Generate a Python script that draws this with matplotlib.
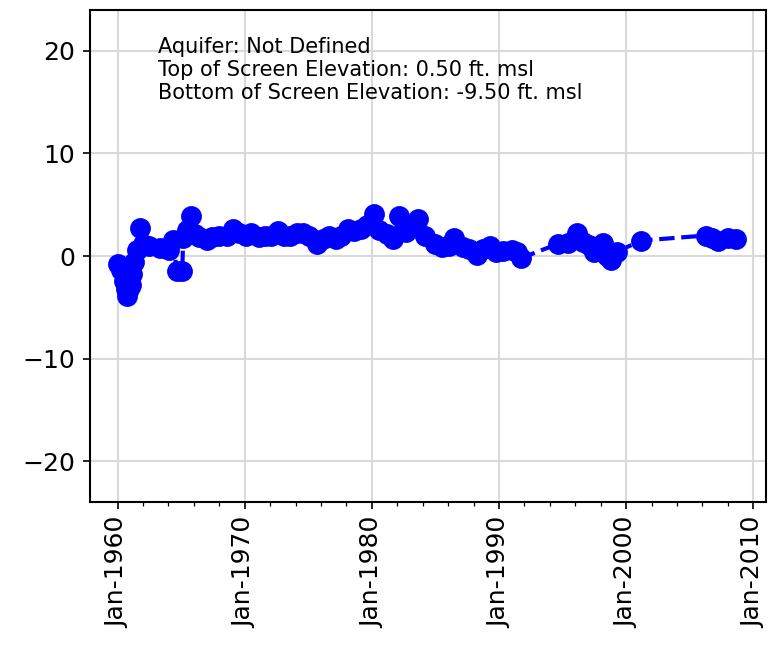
"""
Water level hydrograph for a single well (elevation in ft. msl over time).
"""

import matplotlib
matplotlib.use('Agg')
import matplotlib.pyplot as plt
import matplotlib.dates as mdates
import matplotlib.ticker as mticker
import pandas as pd

# Measurement dates (year-month) and water level elevations (ft. msl)
dates = [
    '1960-01', '1960-04', '1960-07', '1960-09', '1960-10', '1960-12',
    '1961-02', '1961-03', '1961-05', '1961-07', '1961-10', '1962-01',
    '1962-07', '1963-05', '1964-02', '1964-05', '1964-09', '1965-02',
    '1965-03', '1965-07', '1965-10', '1966-02', '1966-06', '1967-01',
    '1967-06', '1968-01', '1968-08', '1969-02', '1969-08', '1970-02',
    '1970-07', '1971-02', '1971-08', '1972-02', '1972-08', '1973-02',
    '1973-08', '1974-02', '1974-08', '1975-02', '1975-09', '1976-03',
    '1976-09', '1977-03', '1977-08', '1978-03', '1978-08', '1979-03',
    '1979-08', '1980-03', '1980-08', '1981-03', '1981-09', '1982-03',
    '1982-09', '1983-03', '1983-09', '1984-03', '1985-01', '1985-07',
    '1986-02', '1986-07', '1987-03', '1987-09', '1988-04', '1988-10',
    '1989-05', '1989-10', '1990-05', '1991-01', '1991-06', '1991-10',
    '1994-09', '1995-06', '1996-03', '1996-08', '1997-02', '1997-07',
    '1998-03', '1998-07', '1998-11', '1999-04', '2001-03', '2006-04',
    '2006-10', '2007-04', '2008-01', '2008-09',
]
levels = [
    -0.8, -1.4, -2.4, -3.2, -3.9, -3.2,
    -2.8, -1.8, -0.6, 0.6, 2.7, 1.2,
    1.0, 0.8, 0.6, 1.6, -1.5, -1.5,
    1.8, 2.5, 3.9, 2.1, 1.9, 1.6,
    1.9, 2.0, 2.0, 2.6, 2.2, 2.0,
    2.2, 1.9, 2.0, 2.0, 2.4, 2.0,
    2.0, 2.2, 2.2, 2.0, 1.2, 1.7,
    2.0, 1.7, 2.0, 2.6, 2.4, 2.6,
    3.0, 4.1, 2.5, 2.1, 1.7, 3.9,
    2.3, 2.9, 3.6, 2.0, 1.2, 0.9,
    1.0, 1.8, 0.9, 0.7, 0.1, 0.7,
    1.0, 0.4, 0.5, 0.6, 0.4, -0.2,
    1.2, 1.3, 2.2, 1.4, 1.1, 0.4,
    1.3, 0.0, -0.4, 0.4, 1.5, 2.0,
    1.8, 1.5, 1.8, 1.7,
]

info_lines = [
    'Aquifer: Not Defined',
    'Top of Screen Elevation: 0.50 ft. msl',
    'Bottom of Screen Elevation: -9.50 ft. msl',
]

when = pd.to_datetime(dates, format='%Y-%m')

fig = plt.figure(figsize=(5.16, 4.3), dpi=150)
ax = fig.add_axes([0.1163, 0.2217, 0.8734, 0.7628])

ax.plot(when, levels, 'o--', color='blue', lw=2, ms=9, zorder=3)

ax.set_ylim(-24, 24)
ax.set_yticks([-20, -10, 0, 10, 20])
ax.set_xlim(pd.Timestamp('1957-11-01'), pd.Timestamp('2011-01-01'))

# major ticks every decade, minor ticks every two years from 1960 on
minor_years = [pd.Timestamp(f'{y}-01-01') for y in range(1960, 2011, 2)]
ax.xaxis.set_major_locator(mdates.YearLocator(10))
ax.xaxis.set_minor_locator(mticker.FixedLocator(mdates.date2num(minor_years)))
ax.xaxis.set_major_formatter(mdates.DateFormatter('%b-%Y'))
plt.setp(ax.get_xticklabels(), rotation=90)

ax.tick_params(labelsize=12)
ax.grid(True, color='#d9d9d9', lw=1.0)
ax.set_axisbelow(True)
for sp in ax.spines.values():
    sp.set_linewidth(1.0)

ax.text(0.10, 0.945, '\n'.join(info_lines), transform=ax.transAxes,
        fontsize=10, va='top', ha='left', linespacing=1.2)

fig.savefig('out.png', dpi=150)
